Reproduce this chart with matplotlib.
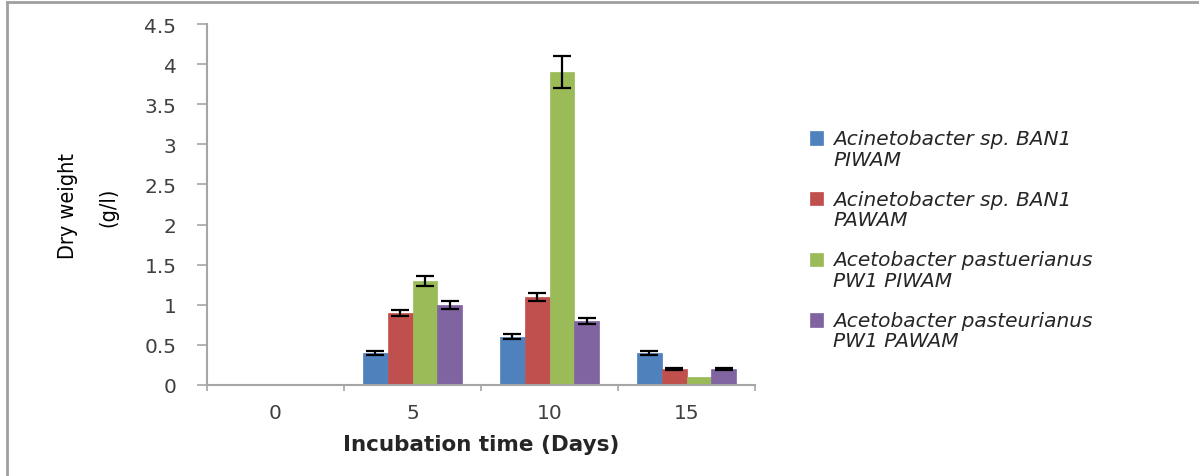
import numpy as np
import matplotlib.pyplot as plt
from matplotlib.lines import Line2D
from matplotlib.patches import Rectangle
from matplotlib.container import BarContainer
from matplotlib.legend_handler import HandlerPatch

# dry weight (g/l) over incubation time, four culture conditions
days = ['0', '5', '10', '15']
series = ['Acinetobacter sp. BAN1\nPIWAM',
          'Acinetobacter sp. BAN1\nPAWAM',
          'Acetobacter pastuerianus\nPW1 PIWAM',
          'Acetobacter pasteurianus\nPW1 PAWAM']
ban1_piwam = [0, 0.4, 0.6, 0.4]
ban1_pawam = [0, 0.9, 1.1, 0.2]
pw1_piwam = [0, 1.3, 3.9, 0.1]
pw1_pawam = [0, 1.0, 0.8, 0.2]
ban1_piwam_err = [0, 0.02, 0.03, 0.02]
ban1_pawam_err = [0, 0.04, 0.05, 0.01]
pw1_piwam_err = [0, 0.06, 0.2, 0]
pw1_pawam_err = [0, 0.05, 0.04, 0.01]

values = [ban1_piwam, ban1_pawam, pw1_piwam, pw1_pawam]
errors = [ban1_piwam_err, ban1_pawam_err, pw1_piwam_err, pw1_pawam_err]
colors = ['#4F81BD', '#C0504D', '#9BBB59', '#8064A2']

W, H = 1199, 477
fig = plt.figure(figsize=(W / 100, H / 100), dpi=100)
ax = fig.add_axes([207 / W, (H - 386) / H, (755 - 207) / W, (386 - 25) / H])

x = np.arange(len(days))
width = 0.182
for i, (vals, errs, c) in enumerate(zip(values, errors, colors)):
    pos = x + (i - 1.5) * width
    ax.bar(pos, vals, width, color=c, edgecolor=c, linewidth=0.5, label=series[i])
    errs = np.array(errs)
    m = errs > 0
    ax.errorbar(pos[m], np.array(vals)[m], yerr=errs[m], fmt='none',
                ecolor='black', elinewidth=1.6, capsize=6.5, capthick=1.6)

ax.set_xlim(-0.5, 3.5)
ax.set_ylim(0, 4.5)
ax.set_yticks(np.arange(0, 4.51, 0.5))
ax.set_yticklabels(['0', '0.5', '1', '1.5', '2', '2.5', '3', '3.5', '4', '4.5'])
ax.set_xticks(x)
ax.set_xticklabels(days)
ax.set_xticks(np.arange(-0.5, 3.6, 1), minor=True)

for s in ['top', 'right']:
    ax.spines[s].set_visible(False)
for s in ['left', 'bottom']:
    ax.spines[s].set_color('#A6A6A6')
    ax.spines[s].set_linewidth(1.5)

ax.tick_params(axis='y', length=7, width=1.2, color='#A6A6A6', pad=15,
               labelsize=14.5, labelcolor='#404040')
ax.tick_params(axis='x', which='major', length=0, pad=13,
               labelsize=14.5, labelcolor='#404040')
ax.tick_params(axis='x', which='minor', length=4, width=1.2, color='#A6A6A6')

fig.text(481 / W, 1 - 445 / H, 'Incubation time (Days)', ha='center', va='center',
         fontsize=15.5, fontweight='bold', color='#262626')
ylab = dict(rotation=90, ha='center', va='center', fontsize=15.5, weight='medium',
            family='DejaVu Sans', stretch='condensed', color='black')
fig.text(68 / W, 1 - 206 / H, 'Dry weight', **ylab)
fig.text(108 / W, 1 - 207 / H, '(g/l)', **ylab)


# legend squares sit level with the first line of each two-line label
def top_square(legend, orig_handle, xdescent, ydescent, width, height, fontsize):
    shift = 0.55 * fontsize
    return Rectangle((-xdescent, -ydescent + shift), width, height)


def first_child(legend_handle, orig_handle):
    legend_handle.update_from(orig_handle[0])


fs = 14.5
leg = fig.legend(loc='upper left', bbox_to_anchor=(810 / W, 1 - 130 / H),
                 frameon=False, prop={'size': fs, 'style': 'italic'},
                 handlelength=0.65, handleheight=0.65, handletextpad=0.5,
                 labelspacing=1.05, borderpad=0, borderaxespad=0,
                 handler_map={BarContainer: HandlerPatch(patch_func=top_square,
                                                         update_func=first_child)})
for t in leg.get_texts():
    t.set_color('#262626')
    t.set_linespacing(1.1)

# outer chart frame (top and left edges)
fig.add_artist(Line2D([7 / W, 7 / W], [0, 1 - 3 / H], color='#A0A0A0', lw=2))
fig.add_artist(Line2D([7 / W, 1], [1 - 3 / H, 1 - 3 / H], color='#A0A0A0', lw=2))

fig.savefig('out.png', dpi=100)
